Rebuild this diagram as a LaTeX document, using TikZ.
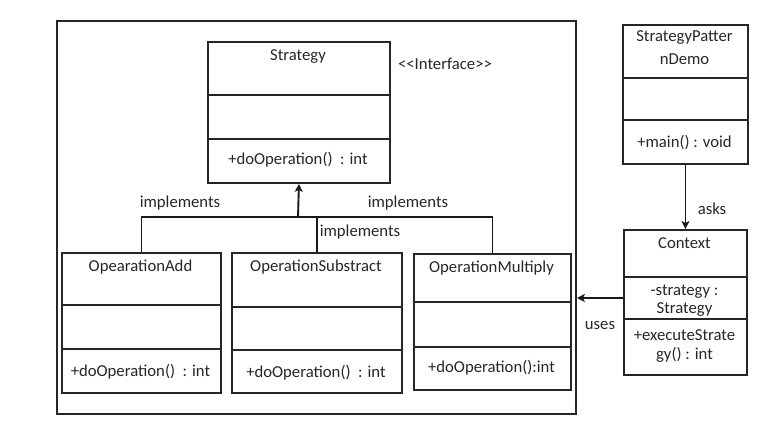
\documentclass[tikz,border=0pt]{standalone}
\usepackage{fontspec}
\setmainfont{Carlito}
\usetikzlibrary{arrows.meta}
\begin{document}
\begin{tikzpicture}[x=1pt,y=-1pt,
  comp/.style={draw=black!85, line width=1.9pt, inner sep=0pt, anchor=north west},
  txt/.style={inner sep=0pt, text=black!85, font=\fontsize{16.7}{19}\selectfont},
  conn/.style={draw=black!90, line width=1.9pt},
  arr/.style={conn, -{Stealth[length=8pt,width=8pt,inset=2pt]}}]
\useasboundingbox (0,0) rectangle (782,431);
% frame
\node[comp, minimum width=519pt, minimum height=393pt] (frame) at (56,20) {};
% Strategy
\node[comp, minimum width=182pt, minimum height=53pt] (st1) at (207,41) {};
\node[comp, minimum width=182pt, minimum height=44pt] (st2) at (207,94) {};
\node[comp, minimum width=182pt, minimum height=44pt] (st3) at (207,138) {};
\node[txt] (stn) at (298,57) {Strategy};
\node[txt] (stm) at (298,160) {+doOperation()\ \ : int};
\node[txt] (iface) at (445,64) {<{}<Interface>{}>};
% Add
\node[comp, minimum width=159pt, minimum height=52pt] (ad1) at (61,252) {};
\node[comp, minimum width=159pt, minimum height=44pt] (ad2) at (61,304) {};
\node[comp, minimum width=159pt, minimum height=44pt] (ad3) at (61,348) {};
\node[txt] (adn) at (140.5,267) {OpearationAdd};
\node[txt] (adm) at (140.5,372) {+doOperation()\ \ : int};
% Subtract
\node[comp, minimum width=170pt, minimum height=54pt] (sb1) at (231,252) {};
\node[comp, minimum width=170pt, minimum height=43pt] (sb2) at (231,306) {};
\node[comp, minimum width=170pt, minimum height=43pt] (sb3) at (231,349) {};
\node[txt] (sbn) at (316,267) {OperationSubstract};
\node[txt] (sbm) at (316,373) {+doOperation()\ \ : int};
% Multiply
\node[comp, minimum width=157pt, minimum height=48pt] (mu1) at (413,253) {};
\node[comp, minimum width=157pt, minimum height=45pt] (mu2) at (413,301) {};
\node[comp, minimum width=157pt, minimum height=43pt] (mu3) at (413,346) {};
\node[txt] (mun) at (491.5,268) {OperationMultiply};
\node[txt] (mum) at (491.5,368) {+doOperation():int};
% StrategyPatternDemo
\node[comp, minimum width=125pt, minimum height=53pt] (de1) at (622,24) {};
\node[comp, minimum width=125pt, minimum height=42pt] (de2) at (622,77) {};
\node[comp, minimum width=125pt, minimum height=44pt] (de3) at (622,119) {};
\node[txt] (den1) at (684.5,38) {StrategyPatter};
\node[txt] (den2) at (684.5,59) {nDemo};
\node[txt] (dem) at (684.5,143) {+main() : void};
% Context
\node[comp, minimum width=123pt, minimum height=47pt] (cx1) at (623,229) {};
\node[comp, minimum width=123pt, minimum height=42pt] (cx2) at (623,276) {};
\node[comp, minimum width=123pt, minimum height=56pt] (cx3) at (623,318) {};
\node[txt] (cxn) at (684.5,243) {Context};
\node[txt] (cxa1) at (684.5,292) {-strategy :};
\node[txt] (cxa2) at (684.5,310) {Strategy};
\node[txt] (cxm1) at (684.5,335) {+executeStrate};
\node[txt] (cxm2) at (684.5,355) {gy() : int};
% connectors
\coordinate (j) at (298,217);
\draw[arr] (j) -- (st3.south);
\draw[conn] (ad1.north) -- (ad1.north |- j) -- (mu1.north |- j) -- (mu1.north);
\draw[conn] (sb1.north) -- (sb1.north |- j);
\node[txt] (im1) at (180,203) {implements};
\node[txt] (im2) at (408,203) {implements};
\node[txt] (im3) at (360,232) {implements};
\draw[arr] (de3.south) -- (cx1.north);
\node[txt] (asks) at (712,209) {asks};
\draw[arr] (cx2.west) -- (frame.east |- cx2.west);
\node[txt] (uses) at (600,326) {uses};
\end{tikzpicture}
\end{document}
